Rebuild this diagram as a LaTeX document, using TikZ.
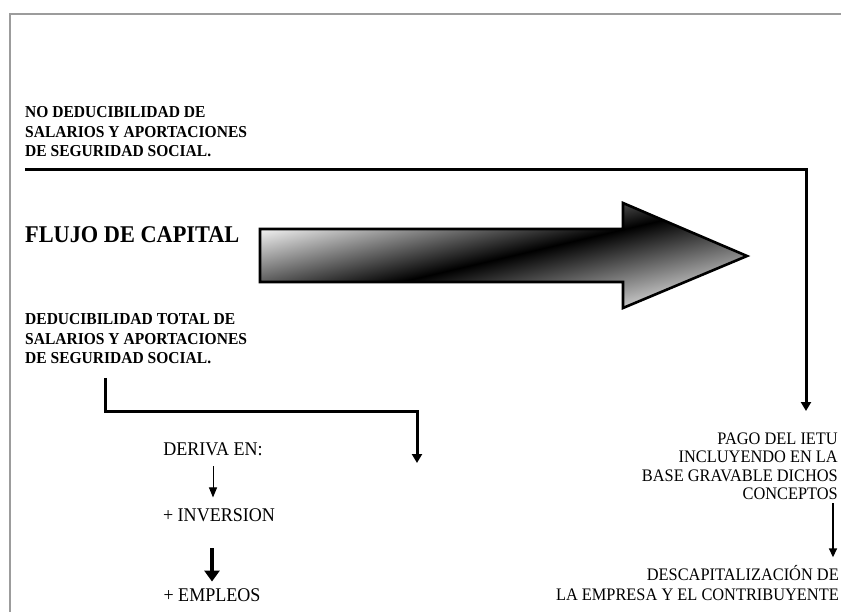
\documentclass[tikz,border=0pt]{standalone}
\usepackage{fontspec}
\setmainfont[FakeStretch=0.93]{Liberation Serif}
\usetikzlibrary{arrows.meta, positioning, calc}
\definecolor{framegray}{HTML}{9C9C9C}
\definecolor{flowlight}{HTML}{EDEDED}
\definecolor{flowmid}{HTML}{D6D6D6}
\tikzset{
    headtext/.style={inner sep=0pt, align=left, font=\fontsize{16.7}{19.3}\selectfont\bfseries},
    titletext/.style={inner sep=0pt, font=\fontsize{24}{28}\selectfont\bfseries},
    steptext/.style={inner sep=0pt, font=\fontsize{19.4}{22}\selectfont},
    resulttext/.style={inner sep=0pt, align=right, font=\fontsize{17.6}{18.4}\selectfont},
    heavyarrow/.style={-{Triangle[length=9pt, width=10pt]}, line width=3pt, draw=black},
    thinarrow/.style={-{Triangle[length=10pt, width=8pt]}, line width=1pt, draw=black},
    midarrow/.style={-{Triangle[length=9pt, width=8pt]}, line width=1.5pt, draw=black},
    thickarrow/.style={-{Triangle[length=11pt, width=15pt]}, line width=3.6pt, draw=black}
}
\begin{document}
\begin{tikzpicture}[x=1pt, y=-1pt]
    \fill[white] (0,0) rectangle (841,612);
    \useasboundingbox (0,0) rectangle (841,612);
    \draw[framegray, line width=1.8pt] (10,612) -- (10,14) -- (841,14);

    \node[headtext, anchor=south west] (nodeduc) at (25,157) {NO DEDUCIBILIDAD DE\\SALARIOS Y APORTACIONES\\DE SEGURIDAD SOCIAL.};
    \node[titletext, anchor=south west] (flujo) at (25,243) {FLUJO DE CAPITAL};
    \node[headtext, anchor=south west] (deduc) at (25,364) {DEDUCIBILIDAD TOTAL DE\\SALARIOS Y APORTACIONES\\DE SEGURIDAD SOCIAL.};

    \node[steptext, anchor=south] (deriva) at (213,456) {DERIVA EN:};
    \node[steptext, anchor=south] (inversion) at (219,522) {+ INVERSION};
    \node[steptext, anchor=south] (empleos) at (212,602) {+ EMPLEOS};

    \node[resulttext, anchor=south east] (pago) at (838,500) {PAGO DEL IETU\\INCLUYENDO EN LA\\BASE GRAVABLE DICHOS\\CONCEPTOS};
    \node[resulttext, anchor=south east, font=\fontsize{17.6}{20}\selectfont] (descap) at (839,601) {DESCAPITALIZACIÓN DE\\LA EMPRESA Y EL CONTRIBUYENTE};

    \begin{scope}
        \clip (260,229) -- (623,229) -- (623,203) -- (747,256) -- (623,308) -- (623,282) -- (260,282) -- cycle;
        \begin{scope}[transform canvas={rotate around={13.3:(510,256)}}]
            \shade[top color=flowlight, bottom color=flowmid, middle color=black] (170,174) rectangle (850,338);
        \end{scope}
    \end{scope}
    \draw[line width=2.6pt, line join=miter] (260,229) -- (623,229) -- (623,203) -- (747,256) -- (623,308) -- (623,282) -- (260,282) -- cycle;

    \coordinate (topstart) at ([shift={(0,13)}]nodeduc.south west);
    \coordinate (topend) at (806,411);
    \coordinate (lowstart) at ([shift={(80,14)}]deduc.south west);
    \coordinate (lowend) at (417,463);

    \draw[heavyarrow] (topstart) -| (topend);
    \draw[heavyarrow] (lowstart) -- ++(0,33) -| (lowend);
    \draw[thinarrow, shorten <=10pt, shorten >=11pt] (deriva.south) -- (deriva.south |- inversion.north);
    \draw[thickarrow, shorten <=26pt, shorten >=7pt] (empleos.north |- inversion.south) -- (empleos.north);
    \draw[midarrow, shorten <=3pt, shorten >=8pt] ([xshift=-5pt]pago.south east) -- ([xshift=-5pt]pago.south east |- descap.north);
\end{tikzpicture}
\end{document}
